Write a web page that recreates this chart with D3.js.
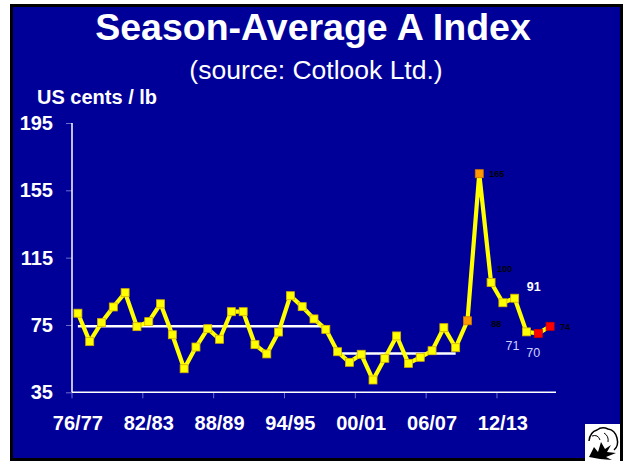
<!DOCTYPE html>
<html><head><meta charset="utf-8">
<script src="https://cdn.jsdelivr.net/npm/d3@7"></script>
<style>
html,body{margin:0;padding:0;background:#fff;}
svg{display:block;font-family:"Liberation Sans",Arial,sans-serif;}
</style></head>
<body>
<script>
// ---- data ----
const seasons = ["76/77","77/78","78/79","79/80","80/81","81/82","82/83","83/84","84/85","85/86",
  "86/87","87/88","88/89","89/90","90/91","91/92","92/93","93/94","94/95","95/96",
  "96/97","97/98","98/99","99/00","00/01","01/02","02/03","03/04","04/05","05/06",
  "06/07","07/08","08/09","09/10","10/11","11/12","12/13","13/14","14/15","15/16","16/17"];
const aIndex = [82.0,65.1,76.4,85.7,94.2,74.0,77.0,87.6,69.2,49.0,
  61.9,72.8,66.5,82.9,82.9,63.3,57.8,70.8,92.4,85.9,
  78.6,72.4,59.1,52.8,57.6,42.3,55.2,68.5,52.2,55.8,
  59.7,73.4,61.5,77.5,164.9,100.2,88.2,90.9,70.9,70.0,74.2];
const orangeSeasons = ["09/10","10/11"];
const redSeasons = ["15/16","16/17"];
const xTickLabels = ["76/77","82/83","88/89","94/95","00/01","06/07","12/13"];
const yTickValues = [35,75,115,155,195];
const avgStart = ["76/77","98/99"];
const avgEnd = ["97/98","08/09"];
const avgValue = [74.3,58.1];
const labelledSeasons = ["10/11","11/12","12/13","13/14","14/15","15/16","16/17"];

// ---- layout ----
const W = 623, H = 461;
const svg = d3.select("body").append("svg").attr("width", W).attr("height", H);
svg.append("rect").attr("x",0).attr("y",0).attr("width",W).attr("height",H).attr("fill","#fff");
svg.append("rect").attr("x",11.5).attr("y",5.5).attr("width",610).attr("height",454)
  .attr("fill","#000099").attr("stroke","#000").attr("stroke-width",3);

svg.append("text").attr("x",313).attr("y",40).attr("text-anchor","middle")
  .attr("fill","#fff").attr("font-weight","bold").attr("font-size",37.5)
  .text("Season-Average A Index");
svg.append("text").attr("x",316).attr("y",78.5).attr("text-anchor","middle")
  .attr("fill","#fff").attr("font-size",26.5)
  .text("(source: Cotlook Ltd.)");
svg.append("text").attr("x",37).attr("y",104)
  .attr("fill","#fff").attr("font-weight","bold").attr("font-size",20)
  .text("US cents / lb");

const x = d3.scaleBand().domain(seasons).range([72, 556]).padding(0);
const y = d3.scaleLinear().domain([35,195]).range([392.3,123]);
const cx = s => x(s) + x.bandwidth()/2;

// y axis
const yAxis = svg.append("g").attr("transform","translate(72,0)")
  .call(d3.axisLeft(y).tickValues(yTickValues).tickSize(6).tickPadding(13).tickFormat(d3.format("d")));
yAxis.select(".domain").remove();
yAxis.selectAll(".tick line").attr("stroke","#6f6fd0").attr("stroke-width",1);
yAxis.selectAll(".tick text").attr("fill","#fff").attr("font-weight","bold").attr("font-size",20)
  .attr("font-family","Liberation Sans, Arial, sans-serif");
svg.append("line").attr("x1",72).attr("x2",72).attr("y1",y(195)).attr("y2",y(35))
  .attr("stroke","#fff").attr("stroke-width",1.5);

// x axis
const xAxis = svg.append("g").attr("transform",`translate(0,${y(35)})`)
  .call(d3.axisBottom(x).tickValues(xTickLabels).tickSize(0).tickPadding(24));
xAxis.select(".domain").remove();
xAxis.selectAll(".tick text").attr("fill","#fff").attr("font-weight","bold").attr("font-size",20)
  .attr("font-family","Liberation Sans, Arial, sans-serif");
svg.append("g").selectAll("line").data(xTickLabels).join("line")
  .attr("x1",d=>x(d)).attr("x2",d=>x(d)).attr("y1",y(35)).attr("y2",y(35)+6)
  .attr("stroke","#6f6fd0").attr("stroke-width",1);
svg.append("line").attr("x1",72).attr("x2",556).attr("y1",y(35)).attr("y2",y(35))
  .attr("stroke","#fff").attr("stroke-width",1.5);

// average lines
svg.append("g").selectAll("line").data(avgValue).join("line")
  .attr("x1",(d,i)=>cx(avgStart[i])).attr("x2",(d,i)=>cx(avgEnd[i]))
  .attr("y1",d=>y(d)).attr("y2",d=>y(d))
  .attr("stroke","#fff").attr("stroke-width",2.5);

// series line
const pts = seasons.map((s,i)=>({s, v:aIndex[i]}));
svg.append("path").datum(pts)
  .attr("d", d3.line().x(d=>cx(d.s)).y(d=>y(d.v)))
  .attr("fill","none").attr("stroke","#ffff00").attr("stroke-width",4.2)
  .attr("stroke-linejoin","round");

// markers
const ms = 8;
svg.append("g").selectAll("rect").data(pts).join("rect")
  .attr("x",d=>cx(d.s)-ms/2).attr("y",d=>y(d.v)-ms/2).attr("width",ms).attr("height",ms)
  .attr("fill",d=> orangeSeasons.includes(d.s) ? "#ff9900" : redSeasons.includes(d.s) ? "#ff0000" : "#ffff00")
  .attr("stroke",d=> orangeSeasons.includes(d.s) ? "#cc7700" : redSeasons.includes(d.s) ? "#cc0000" : "#d4b000")
  .attr("stroke-width",0.8);

// data labels
const labelStyle = {
  "10/11":{dx:10, dy:0, anchor:"start", fill:"#000", size:9, weight:"bold"},
  "11/12":{dx:6, dy:-13.5, anchor:"start", fill:"#000", size:9, weight:"bold"},
  "12/13":{dx:-6.5, dy:21.5, anchor:"middle", fill:"#000", size:9, weight:"bold"},
  "13/14":{dx:19, dy:-11.5, anchor:"middle", fill:"#fff", size:12.5, weight:"bold"},
  "14/15":{dx:-14, dy:14, anchor:"middle", fill:"#d0d0ff", size:12.5, weight:"normal"},
  "15/16":{dx:-5, dy:19, anchor:"middle", fill:"#d0d0ff", size:12.5, weight:"normal"},
  "16/17":{dx:10, dy:0.5, anchor:"start", fill:"#000", size:9, weight:"bold"}
};
svg.append("g").selectAll("text").data(pts.filter(d=>labelledSeasons.includes(d.s))).join("text")
  .attr("x",d=>cx(d.s)+labelStyle[d.s].dx).attr("y",d=>y(d.v)+labelStyle[d.s].dy)
  .attr("dy","0.35em").attr("text-anchor",d=>labelStyle[d.s].anchor)
  .attr("fill",d=>labelStyle[d.s].fill).attr("font-size",d=>labelStyle[d.s].size)
  .attr("font-weight",d=>labelStyle[d.s].weight)
  .text(d=>d3.format(".0f")(d.v));

// cotton icon
const ic = svg.append("g");
ic.append("rect").attr("x",585).attr("y",424).attr("width",35).attr("height",37).attr("fill","#fff");
ic.append("path").attr("d","M589,441 Q590,432 597,430 Q602,426 608,429 Q615,430 617,438 Q619,446 614,450")
  .attr("fill","none").attr("stroke","#000").attr("stroke-width",1.5);
ic.append("path").attr("d","M592,436 Q598,434 600,440 M604,433 Q609,436 608,442")
  .attr("fill","none").attr("stroke","#000").attr("stroke-width",1);
ic.append("path").attr("d","M589,457 L594,447 L598,452 L601,442 L605,449 L611,445 L607,452 L616,453 L606,457 L612,460 L600,459 Z")
  .attr("fill","#000");
</script>
</body></html>
